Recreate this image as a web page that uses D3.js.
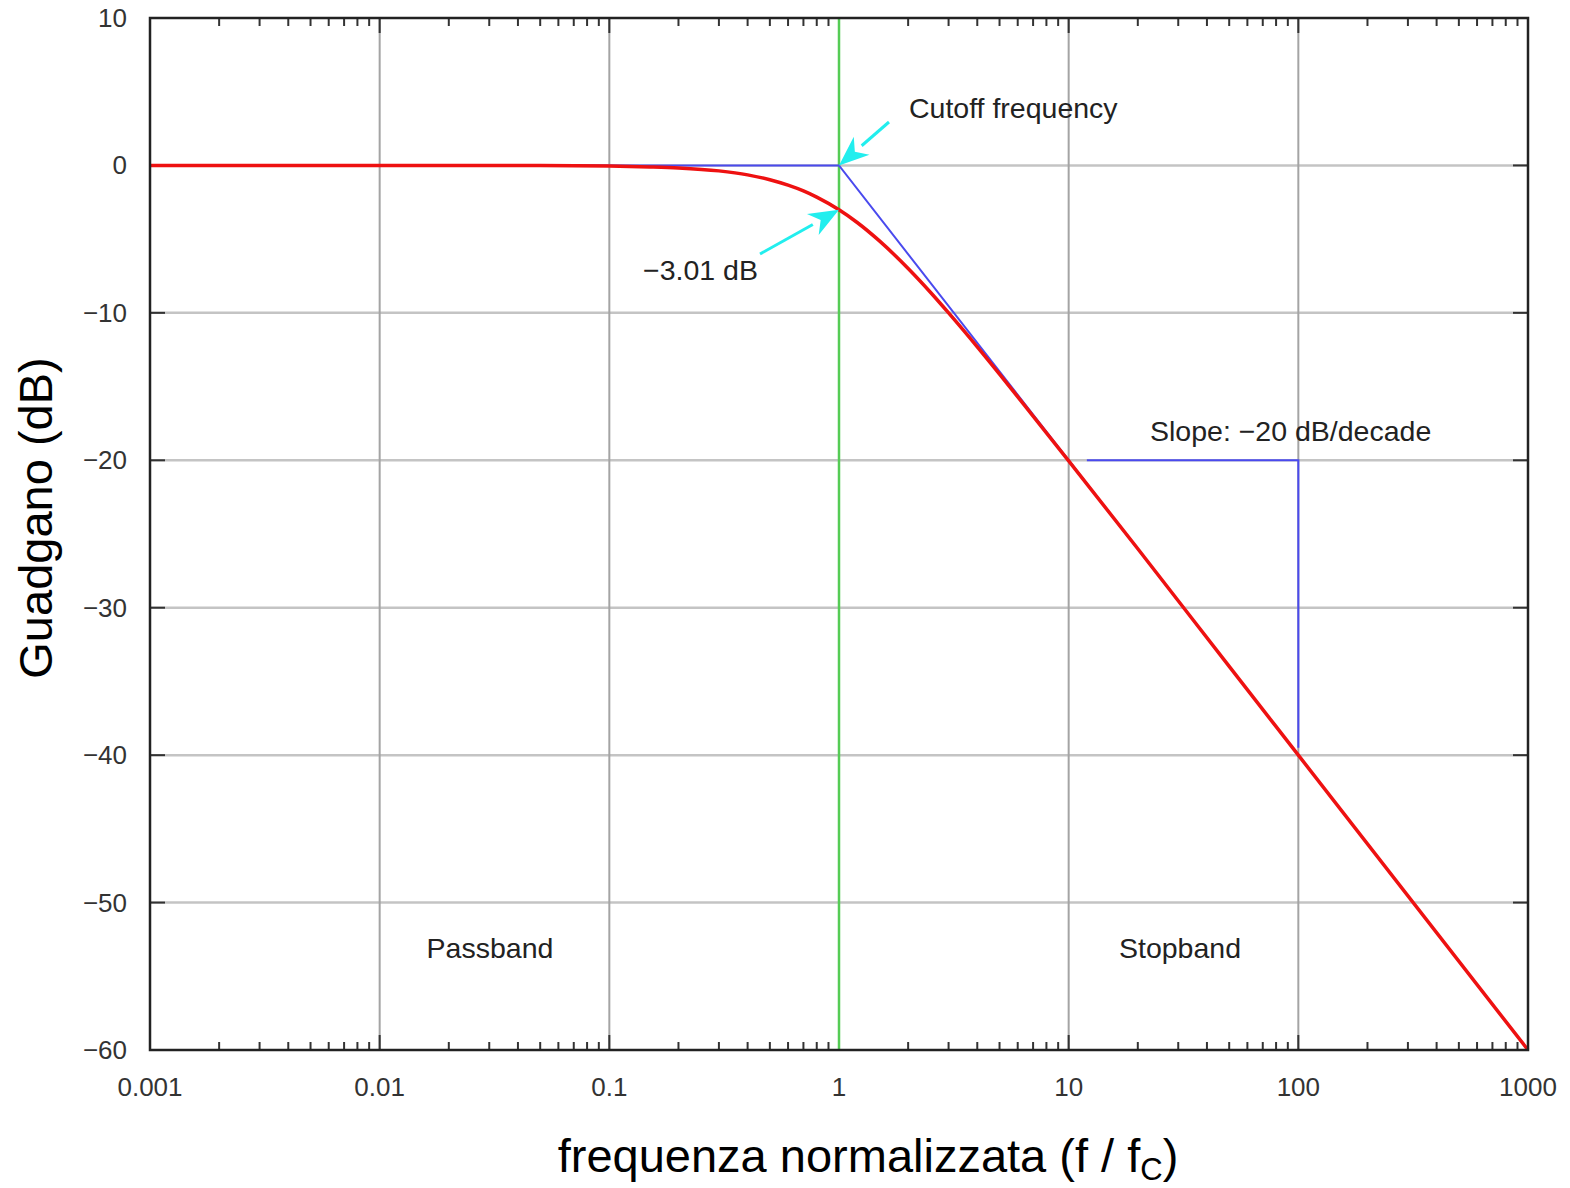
<!DOCTYPE html>
<html><head><meta charset="utf-8">
<script src="https://cdn.jsdelivr.net/npm/d3@7"></script>
<style>body{margin:0;background:#fff}svg{display:block}</style>
</head><body>
<svg id="c" width="1570" height="1188"></svg>
<script>
// Data
const xTickValues = [0.001, 0.01, 0.1, 1, 10, 100, 1000];
const xTickLabels = ["0.001", "0.01", "0.1", "1", "10", "100", "1000"];
const yTickValues = [10, 0, -10, -20, -30, -40, -50, -60];
const yTickLabels = ["10", "0", "\u221210", "\u221220", "\u221230", "\u221240", "\u221250", "\u221260"];
// Red: measured gain curve (f/fc, dB)
const gainFreq = [0.001, 0.01, 0.05, 0.1, 0.15, 0.2, 0.3, 0.4, 0.5, 0.6, 0.7, 0.8, 1, 1.2, 1.5, 2, 2.5, 3, 4, 5, 7, 10, 20, 50, 100, 1000];
const gainDb   = [0, 0, -0.01, -0.04, -0.1, -0.17, -0.37, -0.64, -0.97, -1.34, -1.73, -2.15, -3.01, -3.87, -5.12, -6.99, -8.6, -10.0, -12.3, -14.15, -17.0, -20.04, -26.0, -33.98, -40.0, -60.0];
// Blue: asymptotes
const asymFreq = [0.001, 1, 1000];
const asymDb   = [0, 0, -60];
const slopeFreq = [12, 100, 100];
const slopeDb   = [-20, -20, -39.5];
const cutoffFreq = 1;

const svg = d3.select("#c");
const L = 150, R = 1528, T = 18, B = 1050;
const x = d3.scaleLog().domain([0.001, 1000]).range([L, R]);
const y = d3.scaleLinear().domain([-60, 10]).range([B, T]);
const font = "'Liberation Sans', Arial, sans-serif";

// grid
svg.append("g").selectAll("line").data(yTickValues.filter(v => v > -60 && v < 10)).join("line")
  .attr("x1", L).attr("x2", R).attr("y1", d => y(d)).attr("y2", d => y(d))
  .attr("stroke", "#c4c4c4").attr("stroke-width", 2.5);
svg.append("g").selectAll("line").data(xTickValues.filter(v => v > 0.001 && v < 1000)).join("line")
  .attr("x1", d => x(d)).attr("x2", d => x(d)).attr("y1", T).attr("y2", B)
  .attr("stroke", "#a4a4a4").attr("stroke-width", 2);

// minor ticks
const minor = [];
for (let e = -3; e < 3; e++) for (let m = 2; m <= 9; m++) minor.push(m * Math.pow(10, e));
const tk = svg.append("g").attr("stroke", "#333").attr("stroke-width", 2);
minor.forEach(v => {
  tk.append("line").attr("x1", x(v)).attr("x2", x(v)).attr("y1", B).attr("y2", B - 8);
  tk.append("line").attr("x1", x(v)).attr("x2", x(v)).attr("y1", T).attr("y2", T + 8);
});
xTickValues.forEach(v => {
  tk.append("line").attr("x1", x(v)).attr("x2", x(v)).attr("y1", B).attr("y2", B - 15);
  tk.append("line").attr("x1", x(v)).attr("x2", x(v)).attr("y1", T).attr("y2", T + 15);
});
yTickValues.forEach(v => {
  tk.append("line").attr("x1", L).attr("x2", L + 15).attr("y1", y(v)).attr("y2", y(v));
  tk.append("line").attr("x1", R).attr("x2", R - 15).attr("y1", y(v)).attr("y2", y(v));
});

// green cutoff
svg.append("line").attr("x1", x(cutoffFreq)).attr("x2", x(cutoffFreq)).attr("y1", T).attr("y2", B)
  .attr("stroke", "#55cc55").attr("stroke-width", 2.5);

// blue asymptotes
const line = d3.line().x(d => x(d[0])).y(d => y(d[1]));
svg.append("path").attr("d", line(asymFreq.map((f, i) => [f, asymDb[i]])))
  .attr("fill", "none").attr("stroke", "#4a4aee").attr("stroke-width", 2);
svg.append("path").attr("d", line(slopeFreq.map((f, i) => [f, slopeDb[i]])))
  .attr("fill", "none").attr("stroke", "#4a4aee").attr("stroke-width", 2);

// red gain
const curve = d3.line().x(d => x(d[0])).y(d => y(d[1])).curve(d3.curveMonotoneX);
svg.append("path").attr("d", curve(gainFreq.map((f, i) => [f, gainDb[i]])))
  .attr("fill", "none").attr("stroke", "#ee1111").attr("stroke-width", 3.5);

// frame
svg.append("rect").attr("x", L).attr("y", T).attr("width", R - L).attr("height", B - T)
  .attr("fill", "none").attr("stroke", "#222").attr("stroke-width", 2.5);

// tick labels
svg.append("g").selectAll("text").data(xTickValues).join("text")
  .attr("x", d => x(d)).attr("y", B + 46).attr("text-anchor", "middle")
  .attr("font-family", font).attr("font-size", 26).attr("fill", "#333")
  .text((d, i) => xTickLabels[i]);
svg.append("g").selectAll("text").data(yTickValues).join("text")
  .attr("x", 127).attr("y", d => y(d) + 9).attr("text-anchor", "end")
  .attr("font-family", font).attr("font-size", 26).attr("fill", "#333")
  .text((d, i) => yTickLabels[i]);

// axis titles
const xt = svg.append("text").attr("x", 868).attr("y", 1172).attr("text-anchor", "middle")
  .attr("font-family", font).attr("font-size", 47).attr("fill", "#000");
xt.append("tspan").text("frequenza normalizzata (f / f");
xt.append("tspan").attr("font-size", 31).attr("dy", 8).text("C");
xt.append("tspan").attr("dy", -8).text(")");
svg.append("text").attr("transform", "translate(52,518) rotate(-90)").attr("text-anchor", "middle")
  .attr("font-family", font).attr("font-size", 47).attr("fill", "#000").text("Guadgano (dB)");

// annotations
const ann = (tx, ty, s, anchor) => svg.append("text").attr("x", tx).attr("y", ty)
  .attr("text-anchor", anchor || "start").attr("font-family", font).attr("font-size", 28.5)
  .attr("fill", "#222").text(s);
ann(909, 118, "Cutoff frequency");
ann(643, 280, "\u22123.01 dB");
ann(1150, 441, "Slope: \u221220 dB/decade");
ann(490, 958, "Passband", "middle");
ann(1180, 958, "Stopband", "middle");

// cyan arrows
function arrow(x0, y0, x1, y1) {
  const ang = Math.atan2(y1 - y0, x1 - x0), len = 30, w = 12;
  const bx = x1 - len * Math.cos(ang), by = y1 - len * Math.sin(ang);
  svg.append("line").attr("x1", x0).attr("y1", y0).attr("x2", bx).attr("y2", by)
    .attr("stroke", "#22eeee").attr("stroke-width", 3);
  const px = -Math.sin(ang) * w, py = Math.cos(ang) * w;
  svg.append("path").attr("d", `M${x1},${y1}L${bx + px},${by + py}L${bx + 0.3*(x1-bx)},${by + 0.3*(y1-by)}L${bx - px},${by - py}Z`)
    .attr("fill", "#22eeee");
}
arrow(889, 122, x(cutoffFreq), y(0));
arrow(760, 254, x(cutoffFreq), y(-3.01));
</script>
</body></html>
